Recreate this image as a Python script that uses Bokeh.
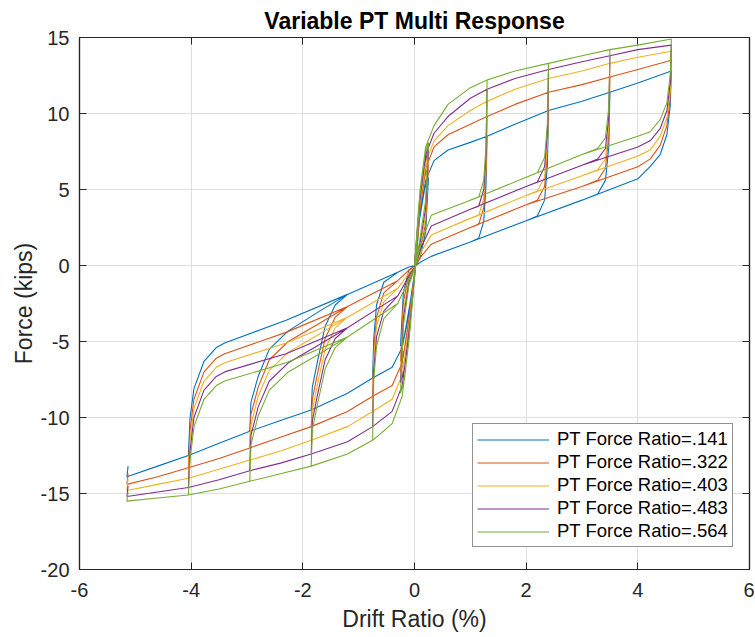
from bokeh.plotting import figure
from bokeh.models import FixedTicker, LinearAxis, Legend, LegendItem, Range1d
from bokeh.embed import file_html
from bokeh.resources import INLINE

# ---------------- data ----------------
labels = ["PT Force Ratio=.141", "PT Force Ratio=.322", "PT Force Ratio=.403",
          "PT Force Ratio=.483", "PT Force Ratio=.564"]
colors = ["#0072BD", "#D95319", "#EDB120", "#7E2F8E", "#77AC30"]

pos_peak_drift = [1.3, 2.4, 3.5, 4.6]
neg_peak_drift = [-0.75, -1.85, -2.95, -4.05]
x_ticks = [-6, -4, -2, 0, 2, 4, 6]
y_ticks = [-20, -15, -10, -5, 0, 5, 10, 15]

# ---- PT Force Ratio = .141 ----
r141_small = [(0.08, 2.8), (0.18, 5.0), (0.25, 5.8), (0.2, 2.2), (0.1, 0.5), (0.02, 0),
              (-0.08, -2.5), (-0.18, -4.6), (-0.25, -5.3), (-0.2, -1.8), (-0.1, -0.3), (0.02, 0)]
r141_pos_env = [(0.1, 3.5), (0.2, 5.6), (0.35, 6.9), (0.6, 7.6), (1.0, 8.1), (1.3, 8.5), (1.8, 9.3),
                (2.4, 10.2), (3.0, 10.8), (3.5, 11.4), (4.0, 12.0), (4.6, 12.8)]
r141_pos_unload = [[(1.28, 5.2), (1.24, 2.9), (1.15, 1.8)],
                   [(2.38, 6.6), (2.33, 4.3), (2.2, 3.25)],
                   [(3.48, 7.8), (3.42, 5.6), (3.28, 4.7)],
                   [(4.58, 10.5), (4.52, 8.6), (4.4, 7.3), (4.22, 6.5)]]
r141_pos_lower = [(4.0, 5.7), (3.0, 4.3), (2.0, 2.95), (1.0, 1.55), (0.3, 0.6), (0.12, 0.25), (0.02, 0)]
r141_neg_env = [(-0.1, -3.2), (-0.22, -5.4), (-0.4, -6.7), (-0.75, -7.4), (-1.2, -8.4), (-1.85, -9.5),
                (-2.4, -10.2), (-2.95, -10.9), (-3.5, -11.7), (-4.05, -12.5), (-4.6, -13.2), (-5.15, -13.9)]
r141_neg_unload = [[(-0.73, -4.8), (-0.68, -2.6), (-0.55, -1.1)],
                   [(-1.83, -8.0), (-1.72, -6.0), (-1.6, -4.0), (-1.42, -2.6)],
                   [(-2.93, -9.0), (-2.8, -7.3), (-2.6, -5.5), (-2.26, -4.3), (-1.7, -3.0)],
                   [(-4.02, -10.0), (-3.95, -8.1), (-3.77, -6.3), (-3.55, -5.4)]]
r141_neg_upper = [(-3.4, -5.1), (-2.3, -3.6), (-1.2, -1.9), (-0.3, -0.45), (-0.1, -0.1), (0.02, 0)]
r141_end = [(-5.13, -13.2)]

# ---- PT Force Ratio = .322 ----
r322_small = [(0.08, 3.2), (0.18, 5.8), (0.25, 6.6), (0.2, 2.8), (0.1, 0.9), (0.02, 0),
              (-0.08, -3.0), (-0.18, -5.5), (-0.25, -6.3), (-0.2, -2.4), (-0.1, -0.6), (0.02, 0)]
r322_pos_env = [(0.1, 4.0), (0.2, 6.4), (0.35, 7.8), (0.6, 8.6), (1.0, 9.3), (1.3, 9.8), (1.8, 10.6),
                (2.4, 11.4), (3.0, 11.9), (3.5, 12.4), (4.0, 12.9), (4.6, 13.5)]
r322_pos_unload = [[(1.28, 6.0), (1.24, 3.8), (1.15, 2.7)],
                   [(2.38, 7.4), (2.33, 5.2), (2.2, 4.3)],
                   [(3.48, 8.6), (3.42, 6.4), (3.28, 5.6)],
                   [(4.58, 11.0), (4.52, 9.2), (4.4, 7.9), (4.22, 7.0)]]
r322_pos_lower = [(4.0, 6.5), (3.0, 5.2), (2.0, 4.0), (1.0, 2.5), (0.3, 1.4), (0.12, 0.6), (0.02, 0)]
r322_neg_env = [(-0.1, -3.8), (-0.22, -6.4), (-0.4, -7.9), (-0.75, -8.6), (-1.2, -9.6), (-1.85, -10.6),
                (-2.4, -11.3), (-2.95, -12.0), (-3.5, -12.7), (-4.05, -13.3), (-4.6, -13.9), (-5.15, -14.4)]
r322_neg_unload = [[(-0.73, -5.6), (-0.68, -3.4), (-0.55, -1.8)],
                   [(-1.83, -8.8), (-1.72, -6.8), (-1.6, -4.8), (-1.42, -3.4)],
                   [(-2.93, -9.8), (-2.8, -8.0), (-2.6, -6.2), (-2.26, -5.0), (-1.7, -3.8)],
                   [(-4.02, -10.8), (-3.95, -8.8), (-3.77, -7.0), (-3.55, -6.1)]]
r322_neg_upper = [(-3.4, -5.8), (-2.3, -4.4), (-1.2, -2.7), (-0.3, -1.0), (-0.1, -0.3), (0.02, 0)]
r322_end = [(-5.13, -13.7)]

# ---- PT Force Ratio = .403 ----
r403_small = [(0.08, 3.5), (0.18, 6.2), (0.25, 7.1), (0.2, 3.3), (0.1, 1.2), (0.02, 0),
              (-0.08, -3.4), (-0.18, -6.2), (-0.25, -7.0), (-0.2, -3.0), (-0.1, -0.9), (0.02, 0)]
r403_pos_env = [(0.1, 4.3), (0.2, 6.8), (0.35, 8.2), (0.6, 9.2), (1.0, 10.2), (1.3, 10.8), (1.8, 11.6),
                (2.4, 12.3), (3.0, 12.8), (3.5, 13.3), (4.0, 13.7), (4.6, 14.1)]
r403_pos_unload = [[(1.28, 6.6), (1.24, 4.4), (1.15, 3.3)],
                   [(2.38, 8.0), (2.33, 5.8), (2.2, 4.9)],
                   [(3.48, 9.2), (3.42, 7.0), (3.28, 6.3)],
                   [(4.58, 11.5), (4.52, 9.7), (4.4, 8.5), (4.22, 7.6)]]
r403_pos_lower = [(4.0, 7.2), (3.0, 5.9), (2.0, 4.6), (1.0, 3.1), (0.3, 2.0), (0.12, 0.9), (0.02, 0)]
r403_neg_env = [(-0.1, -4.2), (-0.22, -7.2), (-0.4, -8.8), (-0.75, -9.6), (-1.2, -10.6), (-1.85, -11.5),
                (-2.4, -12.2), (-2.95, -12.8), (-3.5, -13.4), (-4.05, -14.0), (-4.6, -14.4), (-5.15, -14.8)]
r403_neg_unload = [[(-0.73, -6.2), (-0.68, -4.0), (-0.55, -2.4)],
                   [(-1.83, -9.5), (-1.72, -7.5), (-1.6, -5.5), (-1.42, -4.1)],
                   [(-2.93, -10.5), (-2.8, -8.6), (-2.6, -6.9), (-2.26, -5.7), (-1.7, -4.5)],
                   [(-4.02, -11.5), (-3.95, -9.4), (-3.77, -7.6), (-3.55, -6.7)]]
r403_neg_upper = [(-3.4, -6.4), (-2.3, -5.1), (-1.2, -3.4), (-0.3, -1.5), (-0.1, -0.5), (0.02, 0)]
r403_end = [(-5.13, -14.0)]

# ---- PT Force Ratio = .483 ----
r483_small = [(0.08, 3.8), (0.18, 6.7), (0.25, 7.6), (0.2, 3.8), (0.1, 1.5), (0.02, 0),
              (-0.08, -3.8), (-0.18, -6.8), (-0.25, -7.7), (-0.2, -3.5), (-0.1, -1.1), (0.02, 0)]
r483_pos_env = [(0.1, 4.6), (0.2, 7.3), (0.35, 8.7), (0.6, 9.8), (1.0, 11.0), (1.3, 11.6), (1.8, 12.3),
                (2.4, 12.9), (3.0, 13.4), (3.5, 13.8), (4.0, 14.2), (4.6, 14.5)]
r483_pos_unload = [[(1.28, 7.2), (1.24, 5.0), (1.15, 3.9)],
                   [(2.38, 8.7), (2.33, 6.5), (2.2, 5.5)],
                   [(3.48, 9.8), (3.42, 7.7), (3.28, 7.0)],
                   [(4.58, 12.0), (4.52, 10.2), (4.4, 9.0), (4.22, 8.2)]]
r483_pos_lower = [(4.0, 7.8), (3.0, 6.6), (2.0, 5.2), (1.0, 3.7), (0.3, 2.6), (0.12, 1.2), (0.02, 0)]
r483_neg_env = [(-0.1, -4.6), (-0.22, -7.9), (-0.4, -9.6), (-0.75, -10.6), (-1.2, -11.6), (-1.85, -12.4),
                (-2.4, -13.0), (-2.95, -13.5), (-3.5, -14.1), (-4.05, -14.6), (-4.6, -14.9), (-5.15, -15.2)]
r483_neg_unload = [[(-0.73, -6.9), (-0.68, -4.7), (-0.55, -3.0)],
                   [(-1.83, -10.2), (-1.72, -8.2), (-1.6, -6.2), (-1.42, -4.8)],
                   [(-2.93, -11.2), (-2.8, -9.3), (-2.6, -7.6), (-2.26, -6.4), (-1.7, -5.2)],
                   [(-4.02, -12.2), (-3.95, -10.0), (-3.77, -8.2), (-3.55, -7.3)]]
r483_neg_upper = [(-3.4, -7.0), (-2.3, -5.8), (-1.2, -4.1), (-0.3, -2.0), (-0.1, -0.7), (0.02, 0)]
r483_end = [(-5.13, -14.5)]

# ---- PT Force Ratio = .564 ----
r564_small = [(0.08, 4.1), (0.18, 7.2), (0.25, 8.1), (0.2, 4.3), (0.1, 1.8), (0.02, 0),
              (-0.08, -4.2), (-0.18, -7.5), (-0.25, -8.4), (-0.2, -4.0), (-0.1, -1.3), (0.02, 0)]
r564_pos_env = [(0.1, 5.0), (0.2, 7.8), (0.35, 9.2), (0.6, 10.6), (1.0, 11.7), (1.3, 12.2), (1.8, 12.8),
                (2.4, 13.3), (3.0, 13.8), (3.5, 14.2), (4.0, 14.5), (4.6, 14.9)]
r564_pos_unload = [[(1.28, 7.8), (1.24, 5.6), (1.15, 4.5)],
                   [(2.38, 9.3), (2.33, 7.1), (2.2, 6.1)],
                   [(3.48, 10.4), (3.42, 8.4), (3.28, 7.7)],
                   [(4.58, 12.5), (4.52, 10.7), (4.4, 9.6), (4.22, 8.8)]]
r564_pos_lower = [(4.0, 8.5), (3.0, 7.3), (2.0, 5.8), (1.0, 4.3), (0.3, 3.3), (0.12, 1.5), (0.02, 0)]
r564_neg_env = [(-0.1, -5.0), (-0.22, -8.6), (-0.4, -10.4), (-0.75, -11.5), (-1.2, -12.4), (-1.85, -13.2),
                (-2.4, -13.7), (-2.95, -14.2), (-3.5, -14.7), (-4.05, -15.1), (-4.6, -15.3), (-5.15, -15.5)]
r564_neg_unload = [[(-0.73, -7.5), (-0.68, -5.3), (-0.55, -3.5)],
                   [(-1.83, -10.8), (-1.72, -8.8), (-1.6, -6.8), (-1.42, -5.4)],
                   [(-2.93, -11.8), (-2.8, -9.9), (-2.6, -8.2), (-2.26, -7.0), (-1.7, -5.8)],
                   [(-4.02, -12.8), (-3.95, -10.6), (-3.77, -8.8), (-3.55, -7.9)]]
r564_neg_upper = [(-3.4, -7.6), (-2.3, -6.4), (-1.2, -4.7), (-0.3, -2.5), (-0.1, -0.9), (0.02, 0)]
r564_end = [(-5.13, -14.9)]

series = [
    (r141_small, r141_pos_env, r141_pos_unload, r141_pos_lower, r141_neg_env, r141_neg_unload, r141_neg_upper, r141_end),
    (r322_small, r322_pos_env, r322_pos_unload, r322_pos_lower, r322_neg_env, r322_neg_unload, r322_neg_upper, r322_end),
    (r403_small, r403_pos_env, r403_pos_unload, r403_pos_lower, r403_neg_env, r403_neg_unload, r403_neg_upper, r403_end),
    (r483_small, r483_pos_env, r483_pos_unload, r483_pos_lower, r483_neg_env, r483_neg_unload, r483_neg_upper, r483_end),
    (r564_small, r564_pos_env, r564_pos_unload, r564_pos_lower, r564_neg_env, r564_neg_unload, r564_neg_upper, r564_end),
]


def assemble(small, pos_env, pos_unload, pos_lower, neg_env, neg_unload, neg_upper, end):
    pts = [(0, 0)] + list(small)
    for k in range(4):
        pts += [q for q in pos_env if q[0] <= pos_peak_drift[k]]
        pts += pos_unload[k]
        pts += [q for q in pos_lower if q[0] < pos_unload[k][-1][0]]
        pts += [q for q in neg_env if q[0] >= neg_peak_drift[k]]
        pts += neg_unload[k]
        pts += [q for q in neg_upper if q[0] > neg_unload[k][-1][0]]
    # last excursion: full positive cycle then the final push to the largest negative drift
    pts += pos_env + pos_unload[3]
    pts += [q for q in pos_lower if q[0] < pos_unload[3][-1][0]]
    pts += neg_env + end
    return [q[0] for q in pts], [q[1] for q in pts]


FONT = "Liberation Sans"
TXT = "#262626"

p = figure(width=754, height=634, x_range=Range1d(-6, 6), y_range=Range1d(-20, 15),
           output_backend="svg", toolbar_location=None,
           min_border_left=79, min_border_right=5, min_border_top=37, min_border_bottom=64)

p.title.text = "Variable PT Multi Response"
p.title.align = "center"
p.title.text_font = FONT
p.title.text_font_size = "23px"
p.title.text_font_style = "bold"
p.title.text_color = "#000000"
p.title.standoff = 8

renderers = []
for s, col in zip(series, colors):
    xs, ys = assemble(*s)
    r = p.line(xs, ys, line_color=col, line_width=1.1)
    renderers.append(r)

# axes styling (MATLAB-like box with inward ticks)
for ax in (p.xaxis[0], p.yaxis[0]):
    ax.major_tick_in = 7
    ax.major_tick_out = 0
    ax.minor_tick_line_color = None
    ax.major_tick_line_color = TXT
    ax.axis_line_color = TXT
    ax.axis_line_width = 1.2
    ax.major_label_text_font = FONT
    ax.major_label_text_font_size = "20px"
    ax.major_label_text_color = TXT
    ax.axis_label_text_font = FONT
    ax.axis_label_text_font_size = "23px"
    ax.axis_label_text_font_style = "normal"
    ax.axis_label_text_color = TXT

p.xaxis[0].ticker = FixedTicker(ticks=x_ticks)
p.yaxis[0].ticker = FixedTicker(ticks=y_ticks)
p.xaxis[0].major_label_overrides = {t: str(t) for t in x_ticks}
p.yaxis[0].major_label_overrides = {t: str(t) for t in y_ticks}
p.xaxis[0].axis_label = "Drift Ratio (%)"
p.yaxis[0].axis_label = "Force (kips)"
p.xaxis[0].major_label_standoff = 13
p.yaxis[0].major_label_standoff = 10
p.xaxis[0].axis_label_standoff = 6
p.yaxis[0].axis_label_standoff = 1

top_ax = LinearAxis(ticker=FixedTicker(ticks=x_ticks))
right_ax = LinearAxis(ticker=FixedTicker(ticks=y_ticks))
top_ax.major_label_overrides = {t: "" for t in x_ticks}
right_ax.major_label_overrides = {t: "" for t in y_ticks}
for ax in (top_ax, right_ax):
    ax.major_tick_in = 7
    ax.major_tick_out = 0
    ax.minor_tick_line_color = None
    ax.major_tick_line_color = TXT
    ax.axis_line_color = TXT
    ax.axis_line_width = 1.2
    ax.major_label_standoff = 0
p.add_layout(top_ax, "above")
p.add_layout(right_ax, "right")

p.xgrid.ticker = FixedTicker(ticks=x_ticks)
p.ygrid.ticker = FixedTicker(ticks=y_ticks)
p.grid.grid_line_color = "#dedede"
p.grid.grid_line_width = 1
p.outline_line_color = TXT
p.outline_line_width = 1.2
p.background_fill_color = "white"
p.border_fill_color = "white"

legend = Legend(items=[LegendItem(label=l, renderers=[r]) for l, r in zip(labels, renderers)],
                location=(393, 22))
legend.label_text_font = FONT
legend.label_text_font_size = "18.5px"
legend.label_text_color = "#000000"
legend.border_line_color = TXT
legend.border_line_width = 1.2
legend.background_fill_color = "white"
legend.background_fill_alpha = 1.0
legend.padding = 4
legend.spacing = 1
legend.margin = 0
legend.label_height = 21
legend.glyph_height = 21
legend.glyph_width = 72
legend.label_standoff = 8
p.add_layout(legend)

open("out.html", "w").write(file_html(p, INLINE))
